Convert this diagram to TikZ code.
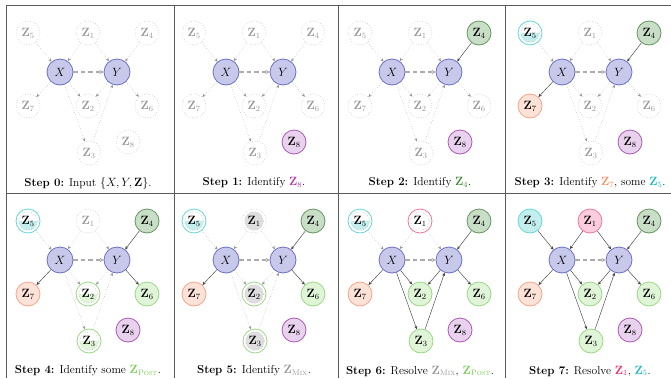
\documentclass[tikz,border=0pt]{standalone}
\usepackage{amsmath}
\usetikzlibrary{arrows.meta}
\definecolor{xyF}{RGB}{200,201,234}
\definecolor{xyD}{RGB}{105,110,200}
\definecolor{puF}{RGB}{233,210,238}
\definecolor{puD}{RGB}{170,90,180}
\definecolor{puT}{RGB}{180,50,170}
\definecolor{grF}{RGB}{200,222,198}
\definecolor{grD}{RGB}{100,150,95}
\definecolor{grT}{RGB}{60,140,50}
\definecolor{orF}{RGB}{253,226,216}
\definecolor{orD}{RGB}{245,165,140}
\definecolor{orT}{RGB}{245,140,100}
\definecolor{cyF}{RGB}{196,238,238}
\definecolor{cyD}{RGB}{100,215,215}
\definecolor{cyT}{RGB}{20,185,195}
\definecolor{poF}{RGB}{224,244,216}
\definecolor{poD}{RGB}{155,215,135}
\definecolor{poT}{RGB}{120,205,80}
\definecolor{pkF}{RGB}{252,205,220}
\definecolor{pkD}{RGB}{240,120,150}
\definecolor{pkT}{RGB}{240,40,100}
\definecolor{mixF}{RGB}{222,222,222}
\definecolor{mixT}{RGB}{150,150,150}
\definecolor{dgray}{RGB}{190,190,190}
\definecolor{tgray}{RGB}{150,150,150}
\definecolor{egray}{RGB}{150,150,150}
\definecolor{framecol}{RGB}{90,90,90}
\tikzset{
  nbase/.style={circle, minimum size=24pt, inner sep=0pt, font=\fontsize{12}{14}\selectfont, text=black},
  unk/.style={nbase, draw=dgray, dotted, line width=0.6pt, text=tgray},
  full/.style={nbase, draw=#1D, fill=#1F, line width=0.8pt},
  some/.style={nbase, draw=#1D, fill=white, line width=0.8pt,
    path picture={\fill[#1F] (path picture bounding box.center) ++(180:9.3pt) arc[start angle=180, end angle=360, radius=9.3pt] -- cycle;
      \draw[dgray, dotted, line width=0.6pt] (path picture bounding box.center) circle[radius=9.3pt];}},
  mixu/.style={nbase, draw=dgray, dotted, line width=0.6pt,
    path picture={\fill[mixF] (path picture bounding box.center) circle[radius=9.3pt];
      \draw[dgray, dotted, line width=0.6pt] (path picture bounding box.center) circle[radius=9.3pt];}},
  mixp/.style={nbase, draw=#1D, fill=white, line width=0.8pt,
    path picture={\fill[mixF] (path picture bounding box.center) circle[radius=9.3pt];
      \draw[dgray, dotted, line width=0.6pt] (path picture bounding box.center) circle[radius=9.3pt];}},
  ring/.style={nbase, draw=#1D, fill=white, line width=0.8pt,
    path picture={\draw[dgray, dotted, line width=0.6pt] (path picture bounding box.center) circle[radius=9.3pt];}},
  xynode/.style={circle, minimum size=26pt, inner sep=0pt, draw=xyD, fill=xyF, line width=0.8pt, font=\fontsize{12}{14}\selectfont},
  edg/.style={-{Stealth[length=3.4pt,width=3pt]}, line width=0.45pt},
  dotedge/.style={edg, dotted, draw=egray},
  sol/.style={edg, solid, draw=black!75},
  xyedge/.style={draw=egray!80, line width=1.2pt, dash pattern=on 4.5pt off 3pt, -{Stealth[length=4pt,width=4.5pt]}},
  captxt/.style={font=\fontsize{11.5}{14}\selectfont, inner sep=0pt},
  st1/.style={unk}, st2/.style={unk}, st3/.style={unk}, st4/.style={unk},
  st5/.style={unk}, st6/.style={unk}, st7/.style={unk}, st8/.style={unk},
  e1/.style={dotedge}, e2/.style={dotedge}, e3/.style={dotedge}, e4/.style={dotedge}, e5/.style={dotedge},
  e6/.style={dotedge}, e7/.style={dotedge}, e8/.style={dotedge}, e9/.style={dotedge}, e10/.style={dotedge},
}
\newcommand\Zb[1]{$\mathbf{Z}_{#1}$}
\newcommand\drawpanel[5]{%
\begin{scope}[shift={(#1,#2)}, name prefix=#3-]
  \tikzset{#4}
  \node[st5] (z5) at (-60,28) {\Zb{5}};
  \node[st1] (z1) at (0,28) {\Zb{1}};
  \node[st4] (z4) at (59,28) {\Zb{4}};
  \node[xynode] (x) at (-28,67) {$X$};
  \node[xynode] (y) at (29,67) {$Y$};
  \node[st7] (z7) at (-60,101) {\Zb{7}};
  \node[st2] (z2) at (0,101) {\Zb{2}};
  \node[st6] (z6) at (59,101) {\Zb{6}};
  \node[st8] (z8) at (40,137) {\Zb{8}};
  \node[st3] (z3) at (1,148) {\Zb{3}};
  \draw[e1] (z5) -- (x);
  \draw[e2] (z1) -- (x);
  \draw[e3] (z1) -- (y);
  \draw[e4] (z4) -- (y);
  \draw[e5] (x) -- (z7);
  \draw[e6] (x) -- (z2);
  \draw[e7] (y) -- (z2);
  \draw[e8] (y) -- (z6);
  \draw[e9] (x) -- (z3);
  \draw[e10] (z3) -- (y);
  \draw[xyedge] (x) -- (y);
  \node[captxt] (caption) at (0,178) {#5};
\end{scope}}
\begin{document}
\begin{tikzpicture}[x=1pt, y=-1pt]
\useasboundingbox (0,0) rectangle (671,378);
\draw[framecol, line width=0.7pt] (671,5) -- (6,5) -- (6,378);
\draw[framecol, line width=0.7pt] (6,193) -- (671,193);
\draw[framecol, line width=0.7pt] (174,5) -- (174,378);
\draw[framecol, line width=0.7pt] (338,5) -- (338,378);
\draw[framecol, line width=0.7pt] (505,5) -- (505,378);
% row 1
\drawpanel{88}{5}{p0}{}{\textbf{Step 0:} Input $\{X, Y, \mathbf{Z}\}$.}
\drawpanel{254}{5}{p1}{st8/.style={full=pu}}{\textbf{Step 1:} Identify {\color{puT}\Zb{8}}.}
\drawpanel{420}{5}{p2}{st8/.style={full=pu}, st4/.style={full=gr}, e4/.style={sol}}{\textbf{Step 2:} Identify {\color{grT}\Zb{4}}.}
\drawpanel{590}{5}{p3}{st8/.style={full=pu}, st4/.style={full=gr}, st7/.style={full=or}, st5/.style={some=cy}, e4/.style={sol}, e5/.style={sol}}{\textbf{Step 3:} Identify {\color{orT}\Zb{7}}, some {\color{cyT}\Zb{5}}.}
% row 2
\drawpanel{88}{193}{p4}{st8/.style={full=pu}, st4/.style={full=gr}, st7/.style={full=or}, st5/.style={some=cy}, st6/.style={full=po}, st2/.style={some=po}, st3/.style={some=po}, e4/.style={sol}, e5/.style={sol}, e8/.style={sol}}{\textbf{Step 4:} Identify some {\color{poT}$\mathbf{Z}_{\text{\textsc{Post}}}$}.}
\drawpanel{254}{193}{p5}{st8/.style={full=pu}, st4/.style={full=gr}, st7/.style={full=or}, st5/.style={some=cy}, st6/.style={full=po}, st1/.style={mixu}, st2/.style={mixp=po}, st3/.style={mixp=po}, e4/.style={sol}, e5/.style={sol}, e8/.style={sol}}{\textbf{Step 5:} Identify {\color{mixT}$\mathbf{Z}_{\text{\textsc{Mix}}}$}.}
\drawpanel{420}{193}{p6}{st8/.style={full=pu}, st4/.style={full=gr}, st7/.style={full=or}, st5/.style={some=cy}, st6/.style={full=po}, st1/.style={ring=pk}, st2/.style={full=po}, st3/.style={full=po}, e4/.style={sol}, e5/.style={sol}, e8/.style={sol}, e6/.style={sol}, e7/.style={sol}, e9/.style={sol}, e10/.style={sol}}{\textbf{Step 6:} Resolve {\color{mixT}$\mathbf{Z}_{\text{\textsc{Mix}}}$}, {\color{poT}$\mathbf{Z}_{\text{\textsc{Post}}}$}.}
\drawpanel{590}{193}{p7}{st8/.style={full=pu}, st4/.style={full=gr}, st7/.style={full=or}, st5/.style={full=cy}, st6/.style={full=po}, st1/.style={full=pk}, st2/.style={full=po}, st3/.style={full=po}, e1/.style={sol}, e2/.style={sol}, e3/.style={sol}, e4/.style={sol}, e5/.style={sol}, e8/.style={sol}, e6/.style={sol}, e7/.style={sol}, e9/.style={sol}, e10/.style={sol}}{\textbf{Step 7:} Resolve {\color{pkT}\Zb{1}}, {\color{cyT}\Zb{5}}.}
\end{tikzpicture}
\end{document}
